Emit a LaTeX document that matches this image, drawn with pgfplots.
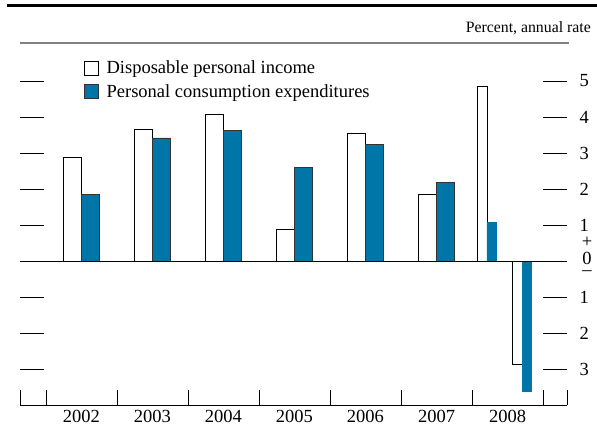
\documentclass[border=0pt]{standalone}
\usepackage{pgfplots}
\pgfplotsset{compat=1.18}
\usepackage{fontspec}
\setmainfont{Liberation Serif}
\definecolor{pceblue}{RGB}{0,117,168}
\definecolor{rulegray}{RGB}{130,130,130}
\begin{document}
\begin{tikzpicture}
\useasboundingbox (0,0) rectangle (597bp,433bp);
\draw[line width=3bp] (7bp,427bp) -- (597bp,427bp);
\node[anchor=base east, inner sep=0pt, font=\fontsize{15.8bp}{18bp}\selectfont] at (591bp,400bp) {Percent, annual rate};
\begin{axis}[
  at={(20bp,28bp)}, anchor=south west,
  scale only axis, width=547bp, height=362bp,
  xmin=-0.866, xmax=6.838, ymin=-4, ymax=6.056,
  axis line style={draw=none},
  font=\fontsize{18.5bp}{22bp}\selectfont,
  tick align=inside,
  xtick={0,1,2,3,4,5,6},
  xticklabels={2002,2003,2004,2005,2006,2007,2008},
  xtick style={draw=none},
  minor xtick={-0.866,-0.5,0.5,1.5,2.5,3.5,4.5,5.5,6.5,6.838},
  minor x tick style={draw=black, line width=0.6bp},
  minor tick length=15bp,
  xtick pos=bottom,
  xticklabel style={yshift=-2bp},
  ytick={-3,-2,-1,0,1,2,3,4,5},
  yticklabels={3,2,1,,1,2,3,4,5},
  ytick pos=both,
  yticklabel pos=right,
  major tick length=24bp,
  y tick style={black, line width=0.6bp},
  yticklabel style={xshift=9bp},
  legend style={at={(rel axis cs:0.111,0.962)}, anchor=north west, draw=none, fill=none,
    font=\fontsize{18.5bp}{22bp}\selectfont, row sep=5bp,
    /tikz/every odd column/.append style={column sep=6bp}},
  legend cell align=left,
  legend image code/.code={\draw[#1] (0bp,-7bp) rectangle (14bp,7bp);},
  clip=false,
]
\addplot[ybar, bar width=0.25, bar shift=-0.125, fill=white, draw=black, line width=0.7bp]
  coordinates {(0,2.88) (1,3.66) (2,4.07) (3,0.89) (4,3.56) (5,1.84)};
\addlegendentry{Disposable personal income}
\addplot[ybar, bar width=0.25, bar shift=0.125, fill=pceblue, draw=black!80, line width=0.5bp]
  coordinates {(0,1.85) (1,3.42) (2,3.63) (3,2.60) (4,3.23) (5,2.19)};
\addlegendentry{Personal consumption expenditures}
\addplot[ybar, bar width=0.13, bar shift=-0.065, fill=white, draw=black, line width=0.7bp, forget plot]
  coordinates {(5.711,4.85) (6.205,-2.88)};
\addplot[ybar, bar width=0.13, bar shift=0.065, fill=pceblue, draw=pceblue, line width=0.5bp, forget plot]
  coordinates {(5.711,1.07) (6.205,-3.62)};
\draw[black, line width=0.7bp] (axis cs:-0.866,0) -- (axis cs:6.838,0);
\draw[black, line width=0.8bp] (rel axis cs:0,0) -- (rel axis cs:1,0);
\draw[rulegray, line width=2bp] (rel axis cs:0,1) -- ([xshift=2bp]rel axis cs:1,1);
\node[font=\fontsize{18.5bp}{22bp}\selectfont, inner sep=0pt] at ([xshift=20bp,yshift=19bp]axis cs:6.838,0) {+};
\node[font=\fontsize{18.5bp}{22bp}\selectfont, inner sep=0pt] at ([xshift=20bp,yshift=3bp]axis cs:6.838,0) {0};
\node[font=\fontsize{18.5bp}{22bp}\selectfont, inner sep=0pt] at ([xshift=20bp,yshift=-12.5bp]axis cs:6.838,0) {\textendash};
\end{axis}
\end{tikzpicture}
\end{document}
